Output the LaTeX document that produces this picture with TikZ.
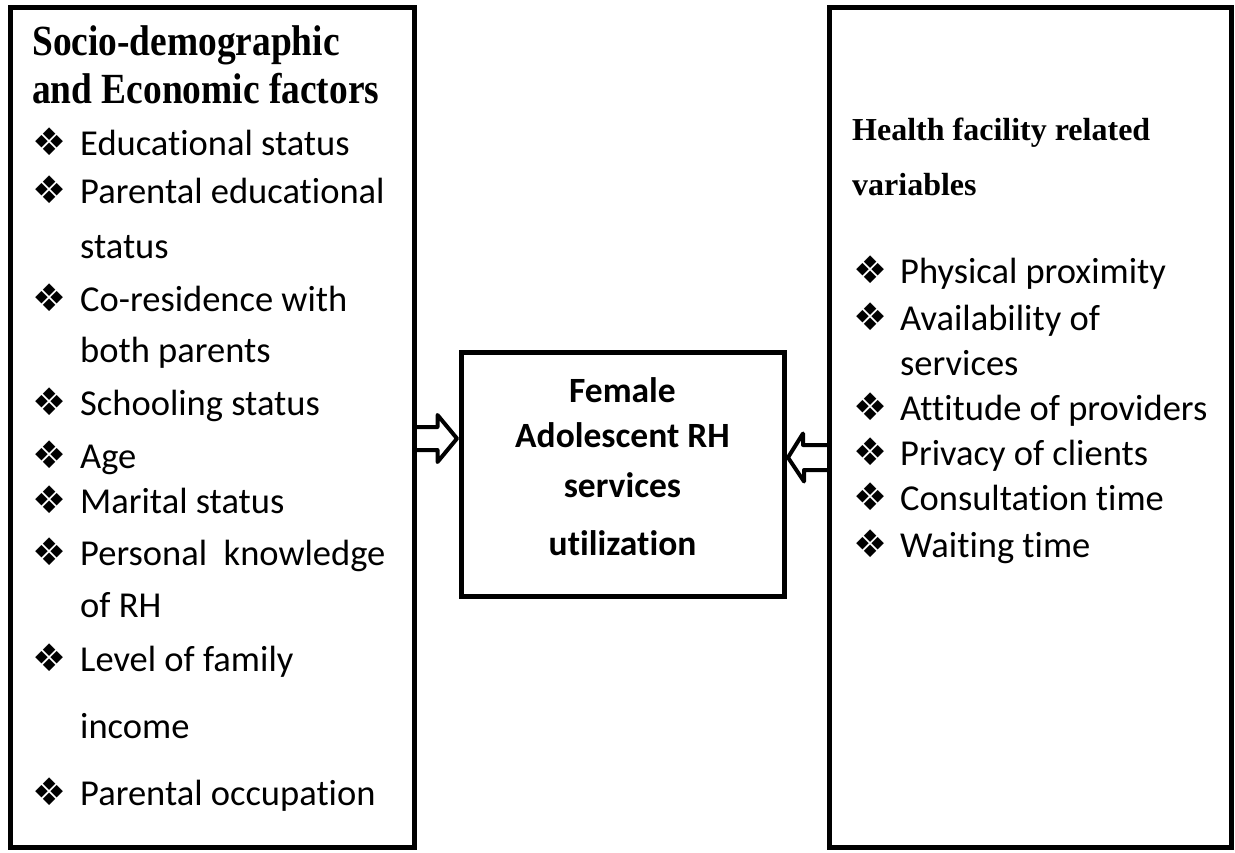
\documentclass[tikz,border=0pt]{standalone}
\usepackage{fontspec}
\usepackage{graphicx}
\setmainfont{Carlito}[Ligatures=NoCommon]
\newfontfamily\hdfont{Liberation Serif}
\newfontfamily\symfont{DejaVu Sans}
\usetikzlibrary{calc}
\tikzset{
  box/.style={draw, line width=5pt, outer sep=0pt, inner sep=0pt},
  itm/.style={anchor=base west, inner sep=0pt, font=\fontsize{36.5}{40}\selectfont},
  bul/.style={anchor=base west, inner sep=0pt, font=\symfont\fontsize{38}{40}\selectfont},
  hdl/.style={anchor=base west, inner sep=0pt, font=\hdfont\bfseries\fontsize{43}{46}\selectfont},
  hdr/.style={anchor=base west, inner sep=0pt, font=\hdfont\bfseries\fontsize{32}{36}\selectfont},
  mid/.style={anchor=base, inner sep=0pt, font=\bfseries\fontsize{35.5}{40}\selectfont},
  arr/.style={draw, line width=4pt, line join=round}
}
\begin{document}
\begin{tikzpicture}[x=1pt,y=-1pt]
\useasboundingbox (0,0) rectangle (1235,852);
% boxes
\node[box, minimum width=404pt, minimum height=840pt] (L) at (212.5,427) {};
\node[box, minimum width=402pt, minimum height=840pt] (R) at (1030,427) {};
\node[box, minimum width=323pt, minimum height=244pt] (M) at (622.5,474) {};
% left heading
\node[hdl] (lh1) at (32,55) {\scalebox{0.87}[1]{Socio-demographic}};
\node[hdl] (lh2) at (32,103) {\scalebox{0.87}[1]{and Economic factors}};
% left list
\node[bul] (lb1) at (32,155) {❖}; \node[itm] (lt1) at (80,155) {Educational status};
\node[bul] (lb2) at (32,203) {❖}; \node[itm] (lt2) at (80,203) {Parental educational};
\node[itm] (lt2b) at (80,258) {status};
\node[bul] (lb3) at (32,311) {❖}; \node[itm] (lt3) at (80,311) {Co-residence with};
\node[itm] (lt3b) at (80,362) {both parents};
\node[bul] (lb4) at (32,415) {❖}; \node[itm] (lt4) at (80,415) {Schooling status};
\node[bul] (lb5) at (32,468) {❖}; \node[itm] (lt5) at (80,468) {Age};
\node[bul] (lb6) at (32,513) {❖}; \node[itm] (lt6) at (80,513) {Marital status};
\node[bul] (lb7) at (32,565) {❖}; \node[itm] (lt7) at (80,565) {Personal\ \ knowledge};
\node[itm] (lt7b) at (80,617) {of RH};
\node[bul] (lb8) at (32,671) {❖}; \node[itm] (lt8) at (80,671) {Level of family};
\node[itm] (lt8b) at (80,738) {income};
\node[bul] (lb9) at (32,805) {❖}; \node[itm] (lt9) at (80,805) {Parental occupation};
% right heading
\node[hdr] (rh1) at (852,140) {Health facility related};
\node[hdr] (rh2) at (852,195) {variables};
% right list
\node[bul] (rb1) at (853,283) {❖}; \node[itm] (rt1) at (900,283) {Physical proximity};
\node[bul] (rb2) at (853,330) {❖}; \node[itm] (rt2) at (900,330) {Availability of};
\node[itm] (rt2b) at (900,375) {services};
\node[bul] (rb3) at (853,420) {❖}; \node[itm] (rt3) at (900,420) {Attitude of providers};
\node[bul] (rb4) at (853,465) {❖}; \node[itm] (rt4) at (900,465) {Privacy of clients};
\node[bul] (rb5) at (853,510) {❖}; \node[itm] (rt5) at (900,510) {Consultation time};
\node[bul] (rb6) at (853,557) {❖}; \node[itm] (rt6) at (900,557) {Waiting time};
% middle text
\node[mid] (m1) at (622.5,402) {Female};
\node[mid] (m2) at (622.5,447) {Adolescent RH};
\node[mid] (m3) at (622.5,497) {services};
\node[mid] (m4) at (622.5,555) {utilization};
% arrows
\coordinate (la) at (L.east |- 0,438.5);
\coordinate (ra) at (R.west |- 0,457.5);
\draw[arr] (la) ++(0,-11.5) -- ++(23,0) -- ++(0,-12) -- ([xshift=-4pt]M.west |- la) -- ++(-19.5,23.5) -- ++(0,-12) -- ++(-23,0);
\draw[arr] (ra) ++(0,-12.5) -- ++(-26,0) -- ++(0,-11.5) -- ([xshift=4pt]M.east |- ra) -- ++(16,24) -- ++(0,-11.5) -- ++(26,0);
\end{tikzpicture}
\end{document}
